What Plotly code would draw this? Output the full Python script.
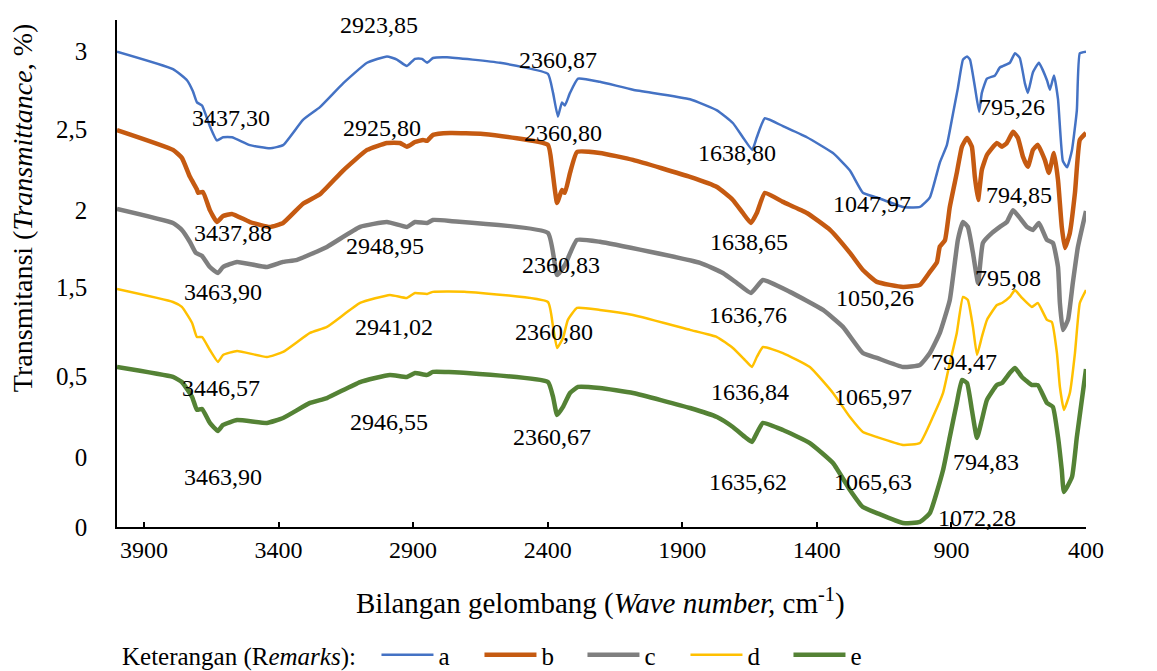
import plotly.graph_objects as go

# ---------------- data ----------------
series_names = ["a", "b", "c", "d", "e"]

wn_a = [4000, 3792, 3740, 3718, 3703, 3684, 3655, 3629, 3606, 3573, 3506, 3432, 3383, 3309, 3246, 3160, 3071, 2997, 2960, 2923,
        2893, 2867, 2848, 2826, 2774, 2577, 2399, 2380, 2362, 2347, 2336, 2317, 2287, 2206, 2083, 1871, 1771, 1712, 1675, 1640,
        1623, 1593, 1526, 1437, 1340, 1277, 1229, 1177, 1080, 1017, 980, 943, 917, 894, 876, 857, 842, 831, 813, 797,
        787, 768, 738, 720, 683, 664, 646, 627, 616, 597, 575, 545, 534, 519, 504, 486, 470, 452, 434, 423, 400]
t_a = [3.00, 2.89, 2.82, 2.75, 2.68, 2.66, 2.53, 2.44, 2.46, 2.46, 2.41, 2.39, 2.41, 2.57, 2.65, 2.80, 2.93, 2.97, 2.95, 2.91,
       2.955, 2.955, 2.93, 2.96, 2.965, 2.93, 2.86, 2.74, 2.59, 2.68, 2.66, 2.74, 2.83, 2.81, 2.76, 2.70, 2.63, 2.55, 2.46, 2.38,
       2.46, 2.58, 2.53, 2.46, 2.36, 2.25, 2.11, 2.08, 2.02, 2.02, 2.08, 2.30, 2.41, 2.61, 2.77, 2.95, 2.97, 2.95, 2.78, 2.62,
       2.74, 2.83, 2.85, 2.90, 2.93, 2.99, 2.96, 2.80, 2.74, 2.87, 2.93, 2.82, 2.76, 2.85, 2.70, 2.31, 2.27, 2.38, 2.63, 2.99, 3.00]

wn_b = [4000, 3792, 3759, 3729, 3703, 3699, 3681, 3655, 3629, 3606, 3573, 3506, 3432, 3383, 3309, 3246, 3160, 3071, 2997, 2949,
        2923, 2893, 2863, 2848, 2826, 2763, 2640, 2399, 2384, 2365, 2347, 2336, 2317, 2291, 2206, 2083, 1871, 1771, 1712, 1675,
        1645, 1623, 1593, 1526, 1437, 1351, 1277, 1229, 1177, 1080, 1017, 980, 954, 943, 924, 906, 880, 861, 842, 824,
        813, 801, 787, 768, 731, 712, 694, 671, 653, 634, 616, 597, 579, 553, 538, 519, 504, 490, 478, 460,
        441, 423, 400]
t_b = [2.505, 2.38, 2.33, 2.21, 2.13, 2.11, 2.115, 2.00, 1.925, 1.963, 1.976, 1.925, 1.894, 1.919, 2.04, 2.10, 2.25, 2.38, 2.424, 2.424,
       2.40, 2.43, 2.443, 2.437, 2.475, 2.487, 2.481, 2.412, 2.273, 2.045, 2.127, 2.109, 2.235, 2.367, 2.361, 2.317, 2.21, 2.146, 2.064, 1.982,
       1.919, 1.982, 2.109, 2.052, 1.982, 1.875, 1.73, 1.622, 1.547, 1.515, 1.528, 1.61, 1.67, 1.77, 1.81, 2.02, 2.235, 2.40, 2.456, 2.40,
       2.21, 2.064, 2.254, 2.348, 2.424, 2.40, 2.424, 2.494, 2.456, 2.336, 2.273, 2.38, 2.412, 2.317, 2.235, 2.361, 2.19, 1.894, 1.761, 1.856,
       2.109, 2.443, 2.487]

wn_c = [4000, 3792, 3759, 3729, 3707, 3684, 3655, 3625, 3606, 3554, 3443, 3383, 3331, 3220, 3097, 2997, 2923, 2893, 2848, 2826,
        2763, 2399, 2365, 2336, 2291, 2206, 1834, 1749, 1697, 1645, 1600, 1500, 1377, 1303, 1229, 1177, 1080, 1017, 980, 943,
        906, 876, 857, 839, 820, 801, 783, 749, 720, 694, 671, 646, 619, 597, 575, 545, 523, 504, 497, 486,
        467, 449, 430, 400]
t_c = [2.008, 1.919, 1.875, 1.799, 1.730, 1.711, 1.641, 1.603, 1.641, 1.673, 1.641, 1.673, 1.686, 1.768, 1.894, 1.925, 1.894, 1.925, 1.919, 1.938,
       1.932, 1.856, 1.591, 1.654, 1.812, 1.80, 1.667, 1.603, 1.540, 1.477, 1.559, 1.484, 1.370, 1.263, 1.098, 1.067, 1.010, 1.023, 1.098, 1.225,
       1.433, 1.812, 1.925, 1.894, 1.730, 1.540, 1.793, 1.856, 1.894, 1.925, 1.999, 1.951, 1.894, 1.875, 1.919, 1.812, 1.793, 1.641, 1.414, 1.244,
       1.307, 1.540, 1.768, 1.995]

wn_d = [4000, 3792, 3759, 3721, 3703, 3684, 3655, 3625, 3606, 3554, 3443, 3383, 3283, 3220, 3097, 2986, 2923, 2893, 2848, 2826,
        2700, 2399, 2380, 2365, 2343, 2325, 2291, 2206, 2083, 1871, 1771, 1712, 1667, 1641, 1623, 1600, 1526, 1426, 1340, 1277,
        1229, 1177, 1080, 1017, 969, 931, 906, 880, 857, 839, 820, 805, 787, 768, 731, 712, 683, 664, 638, 601,
        579, 545, 527, 508, 497, 482, 460, 441, 423, 400]
t_d = [1.502, 1.420, 1.389, 1.288, 1.199, 1.199, 1.117, 1.042, 1.086, 1.111, 1.073, 1.105, 1.225, 1.263, 1.414, 1.465, 1.446, 1.477, 1.471, 1.484,
       1.484, 1.420, 1.263, 1.130, 1.193, 1.307, 1.383, 1.370, 1.338, 1.244, 1.199, 1.130, 1.054, 1.010, 1.073, 1.136, 1.098, 1.010, 0.846, 0.694,
       0.600, 0.568, 0.518, 0.530, 0.694, 0.846, 1.035, 1.225, 1.452, 1.433, 1.263, 1.086, 1.199, 1.307, 1.401, 1.414, 1.452, 1.496, 1.446, 1.389,
       1.414, 1.307, 1.294, 1.098, 0.884, 0.739, 0.846, 1.098, 1.414, 1.496]

wn_e = [4000, 3792, 3759, 3721, 3703, 3684, 3655, 3625, 3606, 3554, 3443, 3383, 3283, 3220, 3097, 2986, 2923, 2893, 2848, 2826,
        2700, 2399, 2380, 2365, 2343, 2317, 2287, 2206, 2083, 1871, 1771, 1712, 1667, 1641, 1623, 1600, 1526, 1426, 1340, 1277,
        1229, 1177, 1080, 1017, 980, 931, 906, 880, 861, 842, 824, 805, 787, 768, 731, 712, 683, 664, 638, 601,
        579, 545, 523, 504, 490, 482, 452, 434, 400]
t_e = [1.010, 0.947, 0.915, 0.821, 0.739, 0.745, 0.657, 0.606, 0.644, 0.675, 0.657, 0.688, 0.783, 0.814, 0.915, 0.960, 0.947, 0.972, 0.960, 0.979,
       0.972, 0.915, 0.821, 0.707, 0.758, 0.846, 0.884, 0.877, 0.846, 0.751, 0.694, 0.631, 0.568, 0.537, 0.593, 0.657, 0.612, 0.530, 0.404, 0.234,
       0.126, 0.088, 0.025, 0.032, 0.088, 0.360, 0.568, 0.783, 0.928, 0.909, 0.739, 0.562, 0.675, 0.802, 0.896, 0.909, 0.972, 1.004, 0.947, 0.896,
       0.896, 0.783, 0.758, 0.568, 0.360, 0.221, 0.316, 0.568, 0.997]

x_tick_vals = [3900, 3400, 2900, 2400, 1900, 1400, 900, 400]
x_tick_text = ["3900", "3400", "2900", "2400", "1900", "1400", "900", "400"]
y_tick_vals = [0, 0.44, 0.95, 1.515, 2.0, 2.51, 3.0]
y_tick_text = ["0", "0", "0,5", "1,5", "2", "2,5", "3"]

peak_labels = ["2923,85", "2360,87", "3437,30", "795,26",
               "2925,80", "2360,80", "1638,80", "46,,88", "1047,97", "794,85",
               "3437,88", "1638,65", "2948,95", "468,37", "2360,83", "3463,90", "1636,76", "1050,26", "795,08", "469,27",
               "2941,02", "2360,80", "794,47", "3446,57", "1636,84", "1065,97", "468,90",
               "2946,55", "2360,67", "3463,90", "1635,62", "1065,63", "794,83", "470,65", "1072,28"]
# label positions (wavenumber, transmittance)
label_x = [3027, 2362, 3577, 675,
           3016, 2343, 1697, 282, 1195, 649,
           3569, 1652, 3004, 311, 2351, 3606, 1656, 1184, 690, 285,
           2971, 2377, 854, 3614, 1649, 1192, 285,
           2990, 2384, 3606, 1656, 1192, 772, 345, 805]
label_y = [3.169, 2.948, 2.582, 2.651,
           2.519, 2.487, 2.361, 2.285, 2.039, 2.096,
           1.856, 1.799, 1.774, 1.780, 1.654, 1.484, 1.338, 1.446, 1.572, 1.319,
           1.263, 1.231, 1.042, 0.877, 0.852, 0.821, 0.821,
           0.663, 0.568, 0.316, 0.284, 0.284, 0.410, 0.170, 0.057]

# ---------------- styling ----------------
colors = ["#4472C4", "#C55A11", "#7F7F7F", "#FFC000", "#548235"]
widths = [2.5, 4.5, 4.5, 2.5, 4.5]
FONT = "Liberation Serif"

fig = go.Figure()
for name, xs, ys, c, w in zip(series_names, [wn_a, wn_b, wn_c, wn_d, wn_e], [t_a, t_b, t_c, t_d, t_e], colors, widths):
    fig.add_trace(go.Scatter(x=xs, y=ys, mode="lines", name=name,
                             line=dict(color=c, width=w, shape="spline", smoothing=0.4)))

for txt, lx, ly in zip(peak_labels, label_x, label_y):
    fig.add_annotation(x=lx, y=ly, xref="x", yref="y", text=txt, showarrow=False,
                       font=dict(family=FONT, size=24, color="black"),
                       xanchor="center", yanchor="middle")

# axis titles
fig.add_annotation(x=-0.098, y=0.629, xref="paper", yref="paper",
                   text="Transmitansi (<i>Transmittance</i>, %)", textangle=-90, showarrow=False,
                   font=dict(family=FONT, size=28, color="black"), xanchor="center", yanchor="middle")
fig.add_annotation(x=0.4985, y=-0.146, xref="paper", yref="paper",
                   text="Bilangan gelombang (<i>Wave number,</i> cm<sup>-1</sup>)", showarrow=False,
                   font=dict(family=FONT, size=29, color="black"), xanchor="center", yanchor="middle")

fig.update_layout(
    width=1157, height=671,
    margin=dict(l=117, r=71, t=20, b=144),
    paper_bgcolor="white", plot_bgcolor="white",
    font=dict(family=FONT, color="black", size=24),
    showlegend=True,
    legend=dict(orientation="h", xref="container", yref="container",
                x=120 / 1157, y=(671 - 655) / 671, xanchor="left", yanchor="middle",
                title=dict(text="Keterangan (R<i>emarks</i>):  ", side="left",
                           font=dict(family=FONT, size=25, color="black")),
                font=dict(family=FONT, size=25, color="black"),
                itemwidth=52, entrywidth=36, entrywidthmode="pixels",
                bgcolor="rgba(0,0,0,0)", tracegroupgap=0),
    xaxis=dict(range=[4000, 400], showgrid=False, zeroline=False,
               showline=True, linecolor="black", linewidth=1.5,
               tickmode="array", tickvals=x_tick_vals, ticktext=x_tick_text,
               ticks="inside", ticklen=5, tickwidth=1.5, tickcolor="black",
               tickfont=dict(family=FONT, size=24, color="black")),
    xaxis2=dict(range=[4000, 400], overlaying="x", anchor="y", side="bottom",
                showgrid=False, zeroline=False, showline=False, showticklabels=False,
                tickmode="array", tickvals=x_tick_vals,
                ticks="outside", ticklen=8, tickwidth=1.5, tickcolor="black",
                minor=dict(ticks="outside", ticklen=5, tickwidth=1.2, tickcolor="black", dtick=100, tick0=400)),
    yaxis=dict(range=[0, 3.2], showgrid=False, zeroline=False,
               showline=True, linecolor="black", linewidth=1.5,
               tickmode="array", tickvals=y_tick_vals, ticktext=y_tick_text,
               ticks="outside", ticklen=23, tickcolor="rgba(0,0,0,0)",
               tickfont=dict(family=FONT, size=25, color="black")),
)

fig.write_html("out.html", config={"displayModeBar": False},
               post_script="document.body.style.margin='0px';")
